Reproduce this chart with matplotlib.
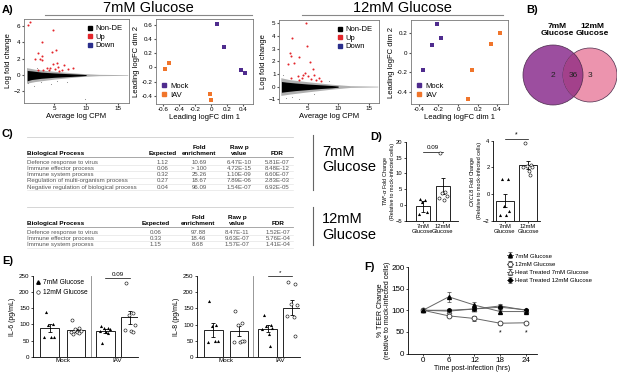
import numpy as np
import matplotlib.pyplot as plt
from matplotlib.patches import Circle
from matplotlib.lines import Line2D
from matplotlib.ticker import FuncFormatter

plt.rcParams['font.family'] = ['Liberation Sans', 'DejaVu Sans']
plt.rcParams['axes.linewidth'] = 0.6

# ---------------- data ----------------
# A) MA plots (black cloud envelope + highlighted genes)
ma7_cloud_x = [0.8, 1.5, 3, 5, 7, 9, 10]
ma7_cloud_hi = [0.55, 0.5, 0.35, 0.25, 0.17, 0.1, 0.05]
ma7_cloud_lo = [-0.7, -0.55, -0.4, -0.28, -0.2, -0.12, -0.06]
ma7_halo_x = [0.7, 2, 5, 9, 12, 16.5]
ma7_halo_hi = [0.9, 0.7, 0.45, 0.2, 0.08, 0.04]
ma7_halo_lo = [-1.0, -0.8, -0.5, -0.2, -0.08, -0.04]
ma7_up_x = [1.0, 1.3, 4.9, 3.1, 2.45, 3.1, 2.0, 2.8, 3.1, 4.6, 5.3, 5.5, 4.9, 5.6,
            3.9, 4.4, 5.8, 6.3, 7.2, 8.0, 3.3, 2.5, 6.6, 4.2, 5.1]
ma7_up_y = [6.05, 6.4, 5.45, 4.05, 2.7, 2.3, 1.9, 1.9, 1.85, 2.8, 3.05, 1.5, 1.3, 1.0,
            0.9, 0.8, 0.5, 0.6, 0.75, 0.8, 0.55, 0.6, 1.2, 0.6, 0.7]
ma7_gray_x = [1.0, 1.8, 3.0, 4.5, 7.0, 9.8, 2.4, 5.5]
ma7_gray_y = [-1.0, -1.3, -0.9, -1.1, -0.8, -2.9, 0.9, -0.7]

ma12_cloud_x = [0.7, 1.5, 3, 5, 7, 9, 10]
ma12_cloud_hi = [0.4, 0.35, 0.28, 0.2, 0.14, 0.08, 0.04]
ma12_cloud_lo = [-0.45, -0.4, -0.32, -0.24, -0.16, -0.1, -0.05]
ma12_halo_x = [0.6, 2, 5, 9, 12, 16.5]
ma12_halo_hi = [0.7, 0.55, 0.38, 0.18, 0.07, 0.03]
ma12_halo_lo = [-0.7, -0.6, -0.42, -0.2, -0.07, -0.03]
ma12_up_x = [4.74, 2.45, 4.9, 2.05, 2.2, 3.6, 2.8, 1.7, 5.4, 5.9, 4.6, 5.1, 4.0, 3.6,
             5.6, 6.4, 3.4, 2.2, 6.9, 7.2, 6.1, 4.3]
ma12_up_y = [5.03, 3.84, 3.17, 2.65, 2.45, 2.3, 1.9, 1.8, 1.97, 1.38, 1.1, 0.8, 0.66, 0.53,
             0.58, 0.48, 0.8, 0.66, 0.66, 0.4, 0.93, 0.93]
ma12_gray_x = [1.0, 3.6, 2.5, 6.0, 8.5, 1.5]
ma12_gray_y = [0.93, -1.0, -0.8, -0.6, 0.4, -0.9]

# A) MDS plots
pca7_mock_x = [0.08, 0.16, 0.38, 0.43]
pca7_mock_y = [0.62, 0.29, -0.03, -0.08]
pca7_iav_x = [-0.58, -0.53, -0.01, 0.0]
pca7_iav_y = [-0.02, 0.07, -0.38, -0.46]
pca12_mock_x = [-0.21, -0.17, -0.27, -0.36]
pca12_mock_y = [0.29, 0.15, 0.08, -0.18]
pca12_iav_x = [0.43, 0.34, 0.14, 0.10]
pca12_iav_y = [0.20, 0.09, -0.18, -0.47]

# B) Venn counts
venn_counts = [2, 36, 3]

# C) GO tables
go_header = ['Biological Process', 'Expected', 'Fold\nenrichment', 'Raw p\nvalue', 'FDR']
go_7mm = [
    ['Defence response to virus', '1.12', '10.69', '6.47E-10', '5.81E-07'],
    ['Immune effector process', '0.06', '> 100', '4.72E-15', '8.48E-12'],
    ['Immune system process', '0.32', '25.26', '1.10E-09', '6.60E-07'],
    ['Regulation of multi-organism process', '0.27', '18.67', '7.89E-06', '2.83E-03'],
    ['Negative regulation of biological process', '0.04', '96.09', '1.54E-07', '6.92E-05'],
]
go_12mm = [
    ['Defence response to virus', '0.06', '97.88', '8.47E-11', '1.52E-07'],
    ['Immune effector process', '0.33', '18.46', '9.63E-07', '5.76E-04'],
    ['Immune system process', '1.15', '8.68', '1.57E-07', '1.41E-04'],
]

# D) qPCR fold change
d_groups = ['7mM\nGlucose', '12mM\nGlucose']
tnf_mean = [-0.5, 6.0]
tnf_sem = [1.6, 2.4]
tnf_7 = [1.8, 1.6, 0.9, -2.1, -2.8]
tnf_12 = [16.4, 4.2, 3.7, 2.8, 2.1, 1.6]
cxcl8_mean = [-0.5, 2.15]
cxcl8_sem = [0.5, 0.3]
cxcl8_7 = [1.1, 1.1, -0.9, -1.3, -1.6, -1.6]
cxcl8_12 = [3.8, 2.2, 2.1, 2.0, 2.0, 1.7, 1.4]

# E) cytokines
e_groups = ['Mock', 'IAV']
il6_mean_7 = [90, 80]
il6_sem_7 = [12, 6]
il6_mean_12 = [82, 122]
il6_sem_12 = [5, 20]
il6_pts_7 = [[137, 100, 98, 62, 60, 61], [95, 90, 88, 85, 80, 75, 72, 42]]
il6_pts_12 = [[113, 90, 85, 80, 78, 75, 72, 70], [228, 135, 128, 98, 82, 80, 78]]
il8_mean_7 = [83, 87]
il8_sem_7 = [22, 11]
il8_mean_12 = [80, 152]
il8_sem_12 = [15, 23]
il8_pts_7 = [[173, 100, 95, 50, 45, 50], [130, 100, 95, 90, 85, 70, 35]]
il8_pts_12 = [[143, 105, 100, 50, 45, 45, 48], [233, 225, 165, 160, 128, 125, 65]]

# F) TEER
time_hpi = [0, 6, 12, 18, 24]
teer_7 = [100, 131, 112, 97, 97]
teer_7_err = [2, 12, 6, 4, 3]
teer_12 = [100, 87, 81, 70, 71]
teer_12_err = [2, 3, 6, 3, 2]
teer_ht7 = [100, 98, 103, 110, 100]
teer_ht7_err = [2, 3, 4, 5, 3]
teer_ht12 = [100, 100, 103, 107, 101]
teer_ht12_err = [2, 2, 3, 4, 2]
teer_sig_t = [18, 24]

RED = '#E3262B'
NAVY = '#2A2E8C'
MOCK = '#4F2C8E'
IAV = '#F0752B'

W, H = 617, 374
fig = plt.figure(figsize=(W / 100, H / 100), dpi=100)


def px_axes(l, t, r, b):
    return fig.add_axes([l / W, 1 - b / H, (r - l) / W, (b - t) / H])


# overlay in pixel coordinates for text, tables, venn
ov = fig.add_axes([0, 0, 1, 1])
ov.set_xlim(0, W)
ov.set_ylim(H, 0)
ov.axis('off')

fmt_g = FuncFormatter(lambda v, p: f'{v:g}')


def draw_ma(ax, cx, chi, clo, hx, hhi, hlo, ux, uy, gx, gy, xlim, ylim, yticks):
    ax.fill_between(hx, hlo, hhi, color='#b0b0b0', lw=0)
    ax.fill_between(cx, clo, chi, color='black', lw=0)
    ax.scatter(gx, gy, s=0.6, color='#888888', lw=0)
    ax.scatter(ux, uy, s=2.2, color=RED, lw=0)
    ax.set_xlim(xlim)
    ax.set_ylim(ylim)
    ax.set_xticks([5, 10, 15])
    ax.set_yticks(yticks)
    ax.set_xlabel('Average log CPM', fontsize=5.5, labelpad=1)
    ax.set_ylabel('Log fold change', fontsize=5.5, labelpad=1)
    ax.tick_params(labelsize=4.5, length=1.5, pad=1, color='#555')
    for s in ax.spines.values():
        s.set_color('#777')
    handles = [Line2D([], [], marker='s', ls='', color=c, markersize=3.2) for c in ('black', RED, NAVY)]
    ax.legend(handles, ['Non-DE', 'Up', 'Down'], loc='upper right', fontsize=5.5, frameon=False,
              handlelength=0.8, handletextpad=0.4, labelspacing=0.15, borderaxespad=0.4)


def draw_pca(ax, mx, my, ix, iy, xlim, ylim, xticks, yticks):
    ax.scatter(mx, my, marker='s', s=10, color=MOCK, lw=0)
    ax.scatter(ix, iy, marker='s', s=10, color=IAV, lw=0)
    ax.set_xlim(xlim)
    ax.set_ylim(ylim)
    ax.set_xticks(xticks)
    ax.set_yticks(yticks)
    ax.xaxis.set_major_formatter(fmt_g)
    ax.yaxis.set_major_formatter(fmt_g)
    ax.set_xlabel('Leading logFC dim 1', fontsize=5.5, labelpad=1)
    ax.set_ylabel('Leading logFC dim 2', fontsize=5.5, labelpad=1)
    ax.tick_params(labelsize=4.5, length=1.5, pad=1, color='#555')
    for s in ax.spines.values():
        s.set_color('#777')
    handles = [Line2D([], [], marker='s', ls='', color=c, markersize=3.2) for c in (MOCK, IAV)]
    ax.legend(handles, ['Mock', 'IAV'], loc='lower left', fontsize=5.5, frameon=False,
              handlelength=0.8, handletextpad=0.4, labelspacing=0.15, borderaxespad=0.3)


# ---------- A ----------
ov.text(2, 10, 'A)', fontsize=8, fontweight='bold', va='center')
ov.text(148, 8, '7mM Glucose', fontsize=10.5, ha='center', va='center')
ov.plot([45, 252], [14.5, 14.5], color='#888', lw=0.8)
ov.text(402, 8, '12mM Glucose', fontsize=10.5, ha='center', va='center')
ov.plot([302, 503], [14.5, 14.5], color='#888', lw=0.8)

ax = px_axes(24, 19, 129, 103)
draw_ma(ax, ma7_cloud_x, ma7_cloud_hi, ma7_cloud_lo, ma7_halo_x, ma7_halo_hi, ma7_halo_lo,
        ma7_up_x, ma7_up_y, ma7_gray_x, ma7_gray_y, (0.3, 16.7), (-3.4, 6.8), [-2, 0, 2, 4, 6])
ax = px_axes(279, 20, 379, 103)
draw_ma(ax, ma12_cloud_x, ma12_cloud_hi, ma12_cloud_lo, ma12_halo_x, ma12_halo_hi, ma12_halo_lo,
        ma12_up_x, ma12_up_y, ma12_gray_x, ma12_gray_y, (0.3, 16.7), (-1.3, 5.26), [-1, 0, 1, 2, 3, 4, 5])
ax = px_axes(156, 19, 253, 104)
draw_pca(ax, pca7_mock_x, pca7_mock_y, pca7_iav_x, pca7_iav_y, (-0.69, 0.525), (-0.52, 0.69),
         [-0.6, -0.4, -0.2, 0, 0.2, 0.4], [-0.4, -0.2, 0, 0.2, 0.4, 0.6])
ax = px_axes(411, 20, 508, 104)
draw_pca(ax, pca12_mock_x, pca12_mock_y, pca12_iav_x, pca12_iav_y, (-0.48, 0.51), (-0.52, 0.33),
         [-0.4, -0.2, 0, 0.2, 0.4], [-0.4, -0.2, 0, 0.2])

# ---------- B ----------
ov.text(526, 10, 'B)', fontsize=8, fontweight='bold', va='center')
c_left = Circle((553, 75), 30, facecolor='#9C4E9F', edgecolor='#4a2a4a', lw=0.5)
c_right = Circle((590, 75), 27, facecolor='#EC94AE', edgecolor='#4a2a4a', lw=0.5)
ov.add_patch(c_left)
ov.add_patch(c_right)
c_mid = Circle((553, 75), 30, facecolor='#A3418B', edgecolor='#4a2a4a', lw=0.5)
ov.add_patch(c_mid)
c_mid.set_clip_path(c_right)
ov.text(557, 30, '7mM\nGlucose', fontsize=6, fontweight='bold', ha='center', va='center', linespacing=1.1)
ov.text(592, 30, '12mM\nGlucose', fontsize=6, fontweight='bold', ha='center', va='center', linespacing=1.1)
for xx, n in zip([553, 573, 590], venn_counts):
    ov.text(xx, 75, str(n), fontsize=6, ha='center', va='center', color='#222')

# ---------- C ----------
ov.text(2, 134, 'C)', fontsize=8, fontweight='bold', va='center')


def draw_table(top, rows, cols):
    ov.plot([27, 293], [top, top], color='#cfcfcf', lw=0.6)
    for i, (h, x) in enumerate(zip(go_header, cols)):
        ov.text(x, top + 18.5, h, fontsize=4.6, fontweight='bold', ha='left' if i == 0 else 'center',
                va='bottom', linespacing=1.05)
    ov.plot([27, 293], [top + 19.5, top + 19.5], color='#999', lw=0.6)
    for r, row in enumerate(rows):
        y = top + 25 + r * 6.3
        for i, (v, x) in enumerate(zip(row, cols)):
            ov.text(x, y, v, fontsize=4.4, color='#555', ha='left' if i == 0 else 'center', va='center')
        ov.plot([27, 293], [y + 3.15, y + 3.15], color='#dddddd', lw=0.4)


draw_table(137, go_7mm, [27, 163, 199, 239, 277])
draw_table(207, go_12mm, [27, 156, 198, 237, 278])
ov.plot([313, 313], [135, 190], color='#666', lw=0.8)
ov.plot([313, 313], [207, 245], color='#666', lw=0.8)
ov.text(322, 152, '7mM', fontsize=10.5, va='center')
ov.text(322, 167, 'Glucose', fontsize=10.5, va='center')
ov.text(322, 219, '12mM', fontsize=10.5, va='center')
ov.text(322, 235, 'Glucose', fontsize=10.5, va='center')

# ---------- D ----------
ov.text(370, 137, 'D)', fontsize=8, fontweight='bold', va='center')
jit = [-0.15, 0.12, -0.05, 0.18, -0.2, 0.05, 0.1, -0.1]


def style_prism(ax, fs=4.5):
    for s in ('top', 'right'):
        ax.spines[s].set_visible(False)
    ax.tick_params(labelsize=fs, length=1.5, pad=1, width=0.5)


def draw_fold(ax, means, sems, p7, p12, ybase, width):
    ax.bar([0, 1], [m - ybase for m in means], bottom=ybase, width=width, color='white',
           edgecolor='black', lw=0.6, zorder=2)
    ax.errorbar([0, 1], means, yerr=sems, fmt='none', ecolor='black', elinewidth=0.6,
                capsize=1.5, capthick=0.6, zorder=3)
    ax.scatter([0 + j for j in jit[:len(p7)]], p7, marker='^', s=5, color='black', lw=0, zorder=4)
    ax.scatter([1 + j for j in jit[:len(p12)]], p12, marker='o', s=5, facecolor='white',
               edgecolor='black', lw=0.4, zorder=4)
    ax.set_xticks([0, 1])
    ax.set_xticklabels(d_groups, fontsize=3.4, linespacing=1.0)
    style_prism(ax, 4.2)


ax = px_axes(406, 141.7, 458, 220.7)
draw_fold(ax, tnf_mean, tnf_sem, tnf_7, tnf_12, -5, 0.7)
ax.set_ylim(-5, 20)
ax.set_xlim(-0.85, 1.75)
ax.set_yticks([-5, 0, 5, 10, 15, 20])
ax.set_ylabel('$TNF$-$\\alpha$ Fold Change\n(Relative to mock-infected cells)', fontsize=3.9,
              labelpad=1, linespacing=1.0)
ax.plot([0, 1], [16.7, 16.7], color='black', lw=0.5)
ax.text(0.5, 17.3, '0.09', fontsize=4.5, ha='center', va='bottom')

ax = px_axes(493, 140.7, 540, 220.7)
draw_fold(ax, cxcl8_mean, cxcl8_sem, cxcl8_7, cxcl8_12, -2, 0.74)
ax.set_ylim(-2, 4)
ax.set_xlim(-0.52, 1.52)
ax.set_yticks([-2, 0, 2, 4])
ax.set_ylabel('$CXCL8$ Fold Change\n(Relative to mock-infected cells)', fontsize=3.9,
              labelpad=1, linespacing=1.0)
ax.plot([0, 1], [4.15, 4.15], color='black', lw=0.5, clip_on=False)
ax.text(0.5, 4.15, '*', fontsize=5, ha='center', va='bottom')

# ---------- E ----------
ov.text(2, 261, 'E)', fontsize=8, fontweight='bold', va='center')
pos7 = [0, 2.1]
pos12 = [1, 3.05]


def draw_cyto(ax, m7, s7, p7, m12, s12, p12, ylabel, sig, sig_y):
    ax.bar(pos7, m7, width=0.72, color='white', edgecolor='black', lw=0.6, zorder=2)
    ax.bar(pos12, m12, width=0.72, color='white', edgecolor='black', lw=0.6, zorder=2)
    ax.errorbar(pos7, m7, yerr=s7, fmt='none', ecolor='black', elinewidth=0.6, capsize=1.5, capthick=0.6, zorder=3)
    ax.errorbar(pos12, m12, yerr=s12, fmt='none', ecolor='black', elinewidth=0.6, capsize=1.5, capthick=0.6, zorder=3)
    for p, vals in zip(pos7, p7):
        ax.scatter([p + j for j in jit[:len(vals)]], vals, marker='^', s=5, color='black', lw=0, zorder=4)
    for p, vals in zip(pos12, p12):
        ax.scatter([p + j for j in jit[:len(vals)]], vals, marker='o', s=5, facecolor='white',
                   edgecolor='black', lw=0.4, zorder=4)
    ax.axvline(1.55, color='#888', lw=0.6)
    ax.set_xlim(-0.63, 3.35)
    ax.set_ylim(0, 250)
    ax.set_yticks([0, 50, 100, 150, 200, 250])
    ax.set_xticks([0.5, 2.575])
    ax.set_xticklabels(e_groups)
    ax.set_ylabel(ylabel, fontsize=5, labelpad=2)
    style_prism(ax, 4.5)
    ax.tick_params(axis='x', length=0)
    ax.plot([2.1, 3.05], [sig_y, sig_y], color='black', lw=0.5)
    ax.text(2.575, sig_y + 3, sig, fontsize=4.5, ha='center', va='bottom')


ax = px_axes(33, 276, 138, 356.7)
draw_cyto(ax, il6_mean_7, il6_sem_7, il6_pts_7, il6_mean_12, il6_sem_12, il6_pts_12, 'IL-6 (pg/mL)', '0.09', 244)
handles = [Line2D([], [], marker='^', ls='', color='black', markersize=2.5),
           Line2D([], [], marker='o', ls='', mfc='white', mec='black', mew=0.4, markersize=2.5)]
ax.legend(handles, ['7mM Glucose', '12mM Glucose'], loc='upper left', fontsize=4.8, frameon=False,
          handlelength=0.6, handletextpad=0.4, labelspacing=0.4, borderaxespad=0.1)

ax = px_axes(197, 276, 300, 357)
draw_cyto(ax, il8_mean_7, il8_sem_7, il8_pts_7, il8_mean_12, il8_sem_12, il8_pts_12, 'IL-8 (pg/mL)', '*', 250)

# ---------- F ----------
ov.text(364, 267, 'F)', fontsize=8, fontweight='bold', va='center')
ax = px_axes(408, 267, 537, 353.5)
ebkw = dict(color='#666', lw=0.7, elinewidth=0.5, capsize=1.5, capthick=0.5, ecolor='#444')
ax.errorbar(time_hpi, teer_ht7, yerr=teer_ht7_err, marker='^', ms=3.5, mfc='white', mec='#555', mew=0.6,
            label='Heat Treated 7mM Glucose', **ebkw)
ax.errorbar(time_hpi, teer_ht12, yerr=teer_ht12_err, marker='o', ms=2.5, mfc='black', mec='black',
            label='Heat Treated 12mM Glucose', **ebkw)
ax.errorbar(time_hpi, teer_12, yerr=teer_12_err, marker='o', ms=3.5, mfc='white', mec='#333', mew=0.6,
            label='12mM Glucose', **ebkw)
ax.errorbar(time_hpi, teer_7, yerr=teer_7_err, marker='^', ms=2.8, mfc='black', mec='black',
            label='7mM Glucose', **ebkw)
for t in teer_sig_t:
    ax.text(t, 48, '*', fontsize=5, ha='center', va='center')
ax.set_xlim(-3.5, 26.6)
ax.set_ylim(0, 200)
ax.set_xticks(time_hpi)
ax.set_yticks([0, 50, 100, 150, 200])
ax.set_xlabel('Time post-infection (hrs)', fontsize=5, labelpad=1)
ax.set_ylabel('% TEER Change\n(relative to mock-infected cells)', fontsize=5, labelpad=0.3, linespacing=1.0)
style_prism(ax, 5.8)
h, l = ax.get_legend_handles_labels()
order = [3, 2, 0, 1]
ax.legend([h[i] for i in order], [l[i] for i in order], loc='upper left',
          bbox_to_anchor=(505 / W, 1 - 251 / H), bbox_transform=fig.transFigure,
          fontsize=4.3, frameon=False, handlelength=1.0, handletextpad=0.3, labelspacing=0.5,
          borderaxespad=0)

fig.savefig('out.png', dpi=100)
